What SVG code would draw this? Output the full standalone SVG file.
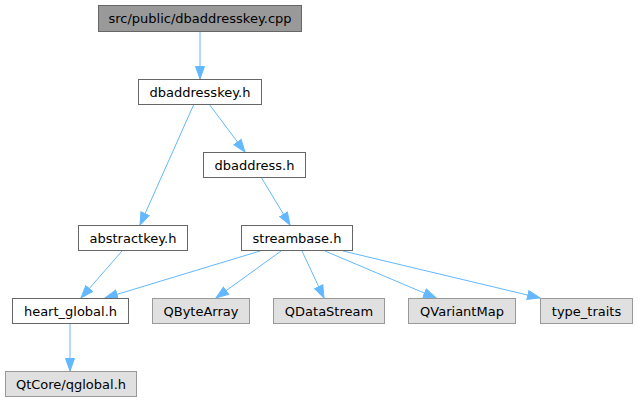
<svg xmlns="http://www.w3.org/2000/svg" width="638" height="403" viewBox="0 0 638 403">
<style>
.n rect{fill:#ffffff;stroke:#666666;stroke-width:1}
.x rect{fill:#e0e0e0;stroke:#999999;stroke-width:1}
.r rect{fill:#999999;stroke:#666666;stroke-width:1}
text{font-family:"DejaVu Sans",sans-serif;font-size:13px;fill:#000000;text-anchor:middle}
.e line{stroke:#63b8ff;stroke-width:1;fill:none;marker-end:url(#ah)}
</style>
<defs>
<marker id="ah" markerUnits="userSpaceOnUse" markerWidth="14" markerHeight="12" refX="13" refY="6" orient="auto">
<path d="M0.5,1.5 L13,6 L0.5,10.5 Z" fill="#63b8ff" stroke="#63b8ff" stroke-width="1"/>
</marker>
</defs>
<rect width="638" height="403" fill="#ffffff"/>
<g class="e" id="edges">
<line x1="200" y1="31" x2="200" y2="79"/>
<line x1="194" y1="104" x2="140" y2="225"/>
<line x1="209" y1="104" x2="245" y2="152"/>
<line x1="261" y1="177" x2="290" y2="225"/>
<line x1="122" y1="251" x2="81" y2="298"/>
<line x1="260" y1="251" x2="105" y2="298"/>
<line x1="281" y1="251" x2="216" y2="298"/>
<line x1="302" y1="251" x2="324" y2="298"/>
<line x1="325" y1="251" x2="436" y2="298"/>
<line x1="343" y1="251" x2="540" y2="298"/>
<line x1="70" y1="324" x2="70" y2="371"/>
</g>
<g id="root" class="r"><rect x="98.5" y="5.5" width="203" height="26"/><text x="200" y="22.5">src/public/dbaddresskey.cpp</text></g>
<g id="dbaddresskey" class="n"><rect x="138.5" y="79.5" width="123" height="25"/><text x="200" y="96.5">dbaddresskey.h</text></g>
<g id="dbaddress" class="n"><rect x="203.5" y="152.5" width="102" height="25"/><text x="254.5" y="169.5">dbaddress.h</text></g>
<g id="abstractkey" class="n"><rect x="78.5" y="225.5" width="109" height="25"/><text x="133" y="242.5">abstractkey.h</text></g>
<g id="streambase" class="n"><rect x="241.5" y="225.5" width="111" height="25"/><text x="297" y="242.5">streambase.h</text></g>
<g id="heart_global" class="n"><rect x="12.5" y="298.5" width="116" height="25"/><text x="70.5" y="315.5">heart_global.h</text></g>
<g id="qbytearray" class="x"><rect x="152.5" y="298.5" width="97" height="25"/><text x="201" y="315.5">QByteArray</text></g>
<g id="qdatastream" class="x"><rect x="273.5" y="298.5" width="111" height="25"/><text x="329" y="315.5">QDataStream</text></g>
<g id="qvariantmap" class="x"><rect x="408.5" y="298.5" width="107" height="25"/><text x="462" y="315.5">QVariantMap</text></g>
<g id="type_traits" class="x"><rect x="540.5" y="298.5" width="92" height="25"/><text x="586.5" y="315.5">type_traits</text></g>
<g id="qglobal" class="x"><rect x="5.5" y="371.5" width="131" height="25"/><text x="71" y="388.5">QtCore/qglobal.h</text></g>
</svg>
